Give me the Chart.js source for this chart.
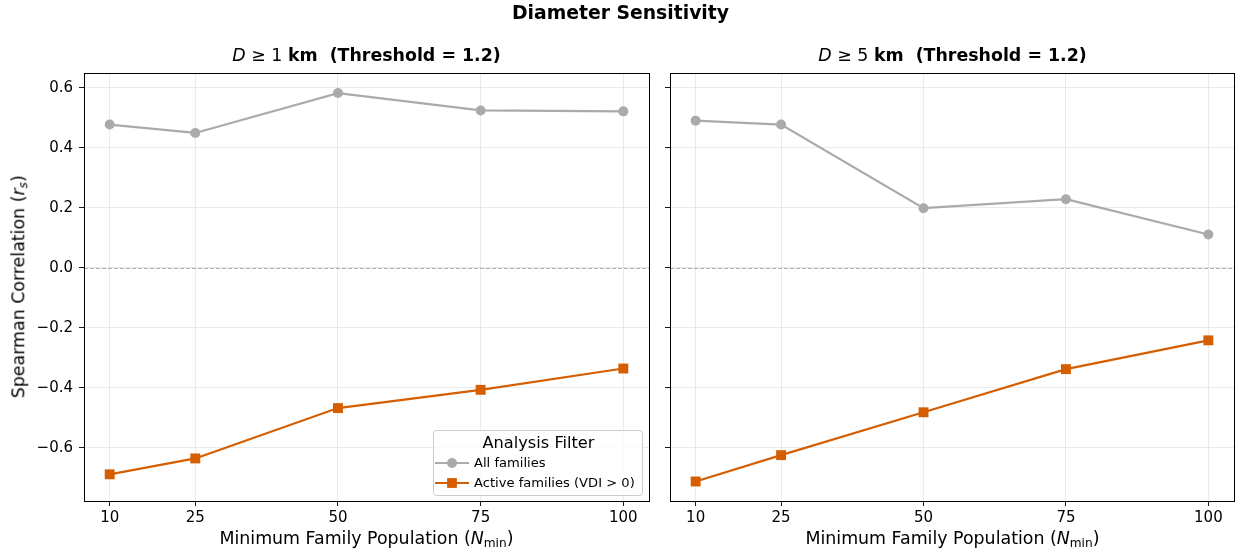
<!DOCTYPE html>
<html>
<head>
<meta charset="utf-8">
<script src="https://cdn.jsdelivr.net/npm/chart.js@4.4.1/dist/chart.umd.min.js"></script>
<style>
  html, body { margin: 0; padding: 0; background: #fff; }
  #wrap { position: relative; width: 1241px; height: 555px; overflow: hidden; font-family: "DejaVu Sans", sans-serif; color: #000; }
  canvas { position: absolute; top: 0; }
  .txt { position: absolute; white-space: pre; text-align: center; line-height: 1; }
  sub { font-size: 0.7em; vertical-align: -0.25em; line-height: 0; }
</style>
</head>
<body>
<div id="wrap">
  <canvas id="c1" width="660" height="555" style="left:0px"></canvas>
  <canvas id="c2" width="581" height="555" style="left:660px"></canvas>
  <div class="txt" id="supt" style="left:0; width:1241px; top:4px; font-size:18.8px; font-weight:bold;">Diameter Sensitivity</div>
  <div class="txt" style="left:84px; width:565px; top:47px; font-size:17.4px;"><i>D</i> ≥ 1 <b>km  (Threshold = 1.2)</b></div>
  <div class="txt" style="left:670px; width:565px; top:47px; font-size:17.4px;"><i>D</i> ≥ 5 <b>km  (Threshold = 1.2)</b></div>
  <div class="txt" style="left:84px; width:565px; top:530px; font-size:17.4px;">Minimum Family Population (<i>N</i><sub>min</sub>)</div>
  <div class="txt" style="left:670px; width:565px; top:530px; font-size:17.4px;">Minimum Family Population (<i>N</i><sub>min</sub>)</div>
  <div class="txt" style="left:-131px; width:300px; top:278px; font-size:17.4px; transform: rotate(-90deg);">Spearman Correlation (<i>r<sub>s</sub></i>)</div>
</div>
<script>
// ---- data ----
const nMin = [10, 25, 50, 75, 100];
const allD1 = [0.478, 0.450, 0.583, 0.525, 0.522];
const activeD1 = [-0.689, -0.636, -0.468, -0.407, -0.336];
const allD5 = [0.491, 0.478, 0.199, 0.229, 0.111];
const activeD5 = [-0.713, -0.625, -0.482, -0.338, -0.242];
const xTicks = [10, 25, 50, 75, 100];
const yTicks = [-0.6, -0.4, -0.2, 0.0, 0.2, 0.4, 0.6];
const seriesLabels = ['All families', 'Active families (VDI > 0)'];
const legendTitle = 'Analysis Filter';

const GRAY = '#aaaaaa';
const ORANGE = '#d55e00';
const FONT = '"DejaVu Sans", sans-serif';

function pts(ys) { return nMin.map((x, i) => ({ x: x, y: ys[i] })); }

function fmtMinus(v) {
  const s = Number(v).toFixed(1);
  return s.replace('-', '\u2212');
}

const framePlugin = {
  id: 'frame',
  beforeDatasetsDraw(chart) {
    const { ctx, chartArea: a, scales } = chart;
    const y0 = Math.round(scales.y.getPixelForValue(0)) + 0.5;
    ctx.save();
    ctx.beginPath();
    ctx.setLineDash([4, 2]);
    ctx.strokeStyle = '#999999';
    ctx.lineWidth = 0.8;
    ctx.moveTo(a.left, y0);
    ctx.lineTo(a.right, y0);
    ctx.stroke();
    ctx.restore();
  },
  afterDraw(chart) {
    const { ctx, chartArea: a } = chart;
    ctx.save();
    ctx.strokeStyle = '#000';
    ctx.lineWidth = 1;
    ctx.strokeRect(Math.round(a.left) + 0.5, Math.round(a.top) + 0.5, Math.round(a.right - a.left), Math.round(a.bottom - a.top));
    ctx.restore();
  }
};

function drawMarker(ctx, style, x, y, color) {
  ctx.fillStyle = color;
  ctx.strokeStyle = color;
  ctx.beginPath();
  if (style === 'rect') {
    const h = 4.9;
    ctx.rect(x - h, y - h, 2 * h, 2 * h);
  } else {
    ctx.arc(x, y, 5, 0, Math.PI * 2);
  }
  ctx.fill();
}

const legendPlugin = {
  id: 'mplLegend',
  afterDraw(chart) {
    const { ctx, chartArea: a } = chart;
    const w = 209, h = 65;
    const x0 = a.right - 7 - w, y0 = a.bottom - 6 - h;
    ctx.save();
    ctx.beginPath();
    if (ctx.roundRect) ctx.roundRect(x0 + 0.5, y0 + 0.5, w, h, 3); else ctx.rect(x0 + 0.5, y0 + 0.5, w, h);
    ctx.fillStyle = 'rgba(255,255,255,0.8)';
    ctx.fill();
    ctx.strokeStyle = '#cccccc';
    ctx.lineWidth = 1;
    ctx.stroke();
    ctx.fillStyle = '#000';
    ctx.textAlign = 'center';
    ctx.textBaseline = 'middle';
    ctx.font = '16.2px ' + FONT;
    ctx.fillText(legendTitle, x0 + w / 2 + 1, y0 + 14);
    ctx.textAlign = 'left';
    ctx.font = '13.1px ' + FONT;
    chart.data.datasets.forEach((ds, i) => {
      const yy = y0 + 33 + i * 20;
      ctx.beginPath();
      ctx.strokeStyle = ds.borderColor;
      ctx.lineWidth = 2.2;
      ctx.moveTo(x0 + 2, yy);
      ctx.lineTo(x0 + 36, yy);
      ctx.stroke();
      drawMarker(ctx, ds.pointStyle, x0 + 19, yy, ds.borderColor);
      ctx.fillStyle = '#000';
      ctx.fillText(ds.label, x0 + 41, yy + 0.5);
    });
    ctx.restore();
  }
};

function makeChart(id, allVals, activeVals, showYLabels, yAxisWidth, padRight, withLegend) {
  const plugins = [framePlugin];
  if (withLegend) plugins.push(legendPlugin);
  return new Chart(document.getElementById(id), {
    type: 'line',
    data: {
      datasets: [
        {
          label: seriesLabels[0], data: pts(allVals),
          borderColor: GRAY, backgroundColor: GRAY, borderWidth: 2.2,
          pointStyle: 'circle', pointRadius: 5, pointBorderWidth: 0,
          pointBackgroundColor: GRAY, tension: 0
        },
        {
          label: seriesLabels[1], data: pts(activeVals),
          borderColor: ORANGE, backgroundColor: ORANGE, borderWidth: 2.2,
          pointStyle: 'rect', pointRadius: 7, pointBorderWidth: 0,
          pointBackgroundColor: ORANGE, tension: 0
        }
      ]
    },
    options: {
      responsive: false,
      animation: false,
      events: [],
      layout: { padding: { top: 73, right: padRight, left: 0, bottom: 0 } },
      plugins: { legend: { display: false }, tooltip: { enabled: false }, title: { display: false } },
      scales: {
        x: {
          type: 'linear', min: 5.5, max: 104.5,
          afterBuildTicks: s => { s.ticks = xTicks.map(v => ({ value: v })); },
          afterFit: s => { s.height = 54; },
          border: { display: false },
          grid: { color: 'rgba(170,170,170,0.3)', lineWidth: 0.8, drawTicks: true, tickLength: 5, tickColor: '#000', tickWidth: 0.9 },
          ticks: { color: '#000', font: { family: FONT, size: 15 }, padding: 3, maxRotation: 0, callback: v => String(v) }
        },
        y: {
          type: 'linear', min: -0.778, max: 0.650,
          afterBuildTicks: s => { s.ticks = yTicks.map(v => ({ value: v })); },
          afterFit: s => { s.width = yAxisWidth; },
          border: { display: false },
          grid: { color: 'rgba(170,170,170,0.3)', lineWidth: 0.8, drawTicks: true, tickLength: 5, tickColor: '#000', tickWidth: 0.9 },
          ticks: { display: showYLabels, color: '#000', font: { family: FONT, size: 15 }, padding: 6, callback: v => fmtMinus(v) }
        }
      }
    },
    plugins: plugins
  });
}

makeChart('c1', allD1, activeD1, true, 84, 11, true);
makeChart('c2', allD5, activeD5, false, 10, 6, false);
</script>
</body>
</html>
